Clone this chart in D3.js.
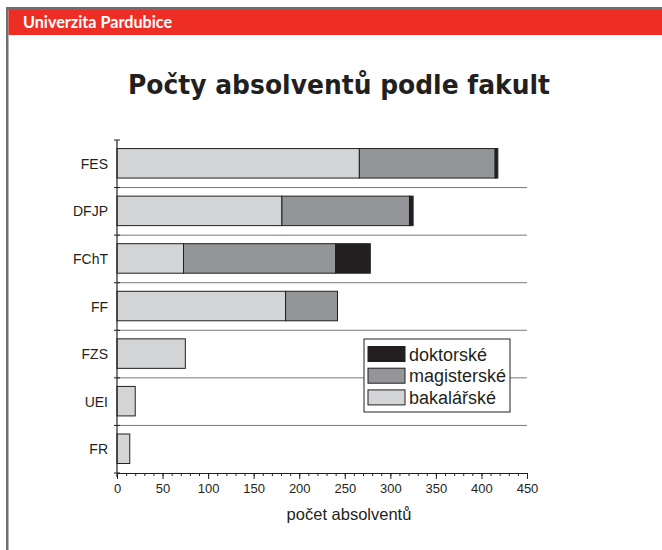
<!DOCTYPE html>
<html>
<head>
<meta charset="utf-8">
<script src="https://cdn.jsdelivr.net/npm/d3@7"></script>
<style>
  html, body { margin: 0; padding: 0; background: #fff; }
  svg { display: block; }
</style>
</head>
<body>
<svg id="chart" width="662" height="550"></svg>
<script>
// faculties, top to bottom
const faculties = ["FES", "DFJP", "FChT", "FF", "FZS", "UEI", "FR"];
// graduates per level
const bakalarske = [266, 181, 73, 185, 75, 20, 14];
const magisterske = [149, 140, 167, 57, 0, 0, 0];
const doktorske = [3, 4, 38, 0, 0, 0, 0];
const seriesKeys = ["bakalarske", "magisterske", "doktorske"];
const seriesNames = ["bakalářské", "magisterské", "doktorské"];
const seriesColors = ["#d3d4d6", "#939598", "#231f20"];
const xTicks = [0, 50, 100, 150, 200, 250, 300, 350, 400, 450];

const rows = faculties.map((f, i) => ({
  faculty: f,
  bakalarske: bakalarske[i],
  magisterske: magisterske[i],
  doktorske: doktorske[i]
}));

const svg = d3.select('#chart');

// page frame: grey border and red header
svg.append('rect').attr('x', 6).attr('y', 7).attr('width', 656).attr('height', 3).attr('fill', '#6d6e70');
svg.append('rect').attr('x', 6).attr('y', 7).attr('width', 2.5).attr('height', 543).attr('fill', '#6d6e70');
svg.append('rect').attr('x', 8.5).attr('y', 10).attr('width', 654).attr('height', 25).attr('fill', '#ee2e24');
svg.append('text')
  .attr('x', 23).attr('y', 28)
  .attr('fill', '#fff')
  .attr('font-family', 'Lato, "Open Sans", sans-serif')
  .attr('font-weight', 'bold')
  .attr('font-size', 17.5)
  .attr('textLength', 149)
  .attr('lengthAdjust', 'spacingAndGlyphs')
  .text('Univerzita Pardubice');

// title
svg.append('text')
  .attr('x', 128).attr('y', 94)
  .attr('font-family', '"DejaVu Sans", Verdana, sans-serif')
  .attr('font-weight', 'bold')
  .attr('font-size', 26)
  .attr('fill', '#231f20')
  .attr('textLength', 422)
  .attr('lengthAdjust', 'spacingAndGlyphs')
  .text('Počty absolventů podle fakult');

const x0 = 117, x1 = 527, yTop = 140, yBottom = 473;

const x = d3.scaleLinear().domain([0, 450]).range([x0, x1]);
const y = d3.scaleBand().domain(faculties).range([yTop, yBottom]).padding(0);
const step = y.step();

const stacked = d3.stack().keys(seriesKeys)(rows);

// separators between bands
const g = svg.append('g');
g.selectAll('line.sep')
  .data(faculties.slice(1))
  .join('line')
  .attr('class', 'sep')
  .attr('x1', x0).attr('x2', x1)
  .attr('y1', d => y(d)).attr('y2', d => y(d))
  .attr('stroke', '#77787a')
  .attr('stroke-width', 1);

// bars
g.selectAll('g.series')
  .data(stacked)
  .join('g')
  .attr('class', 'series')
  .attr('fill', (d, i) => seriesColors[i])
  .selectAll('rect')
  .data(d => d.filter(s => s[1] - s[0] > 0))
  .join('rect')
  .attr('x', d => x(d[0]))
  .attr('width', d => x(d[1]) - x(d[0]))
  .attr('y', d => y(d.data.faculty) + step * 0.18)
  .attr('height', step * 0.62)
  .attr('stroke', '#231f20')
  .attr('stroke-width', 1);

// y axis line with ticks at band edges
const yEdges = faculties.map(f => y(f)).concat([yBottom]);
svg.append('line')
  .attr('x1', x0).attr('x2', x0)
  .attr('y1', yTop).attr('y2', yBottom + 4)
  .attr('stroke', '#231f20').attr('stroke-width', 1.2);
svg.selectAll('line.ytick')
  .data(yEdges)
  .join('line')
  .attr('class', 'ytick')
  .attr('x1', x0 - 3).attr('x2', x0 + 3)
  .attr('y1', d => d).attr('y2', d => d)
  .attr('stroke', '#231f20');

svg.selectAll('text.cat')
  .data(faculties)
  .join('text')
  .attr('class', 'cat')
  .attr('x', 108)
  .attr('y', d => y(d) + step / 2 + 5)
  .attr('text-anchor', 'end')
  .attr('font-family', '"Liberation Sans", Arial, sans-serif')
  .attr('font-size', 14)
  .attr('fill', '#231f20')
  .text(d => d);

// x axis: minor ticks every 10, major every 50
const xAxisG = svg.append('g').attr('transform', `translate(0,${yBottom})`);
xAxisG.call(d3.axisBottom(x).tickValues(d3.range(0, 451, 10)).tickSize(3).tickFormat(''));
const major = svg.append('g').attr('transform', `translate(0,${yBottom})`)
  .call(d3.axisBottom(x).tickValues(xTicks).tickSize(6).tickPadding(5));
major.select('.domain').remove();
[xAxisG, major].forEach(a => {
  a.select('.domain').attr('stroke', '#231f20').attr('stroke-width', 1.2);
  a.selectAll('.tick line').attr('stroke', '#231f20');
  a.selectAll('text')
    .attr('font-family', '"Liberation Sans", Arial, sans-serif')
    .attr('font-size', 13)
    .attr('fill', '#231f20');
});
xAxisG.select('.domain').attr('d', `M${x0},0.5H${x1}`);

svg.append('text')
  .attr('x', 349).attr('y', 520)
  .attr('text-anchor', 'middle')
  .attr('font-family', '"Liberation Sans", Arial, sans-serif')
  .attr('font-size', 16.5)
  .attr('fill', '#231f20')
  .text('počet absolventů');

// legend
const legend = svg.append('g').attr('transform', 'translate(364,339)');
legend.append('rect')
  .attr('width', 146).attr('height', 73)
  .attr('fill', '#fff').attr('stroke', '#231f20').attr('stroke-width', 1);
const legendOrder = [2, 1, 0];
const li = legend.selectAll('g.item')
  .data(legendOrder)
  .join('g')
  .attr('class', 'item')
  .attr('transform', (d, i) => `translate(4,${7.5 + i * 21.7})`);
li.append('rect')
  .attr('width', 37).attr('height', 15)
  .attr('fill', d => seriesColors[d])
  .attr('stroke', '#231f20').attr('stroke-width', 1);
li.append('text')
  .attr('x', 41).attr('y', 14)
  .attr('font-family', '"Liberation Sans", Arial, sans-serif')
  .attr('font-size', 18)
  .attr('fill', '#231f20')
  .text(d => seriesNames[d]);
</script>
</body>
</html>
